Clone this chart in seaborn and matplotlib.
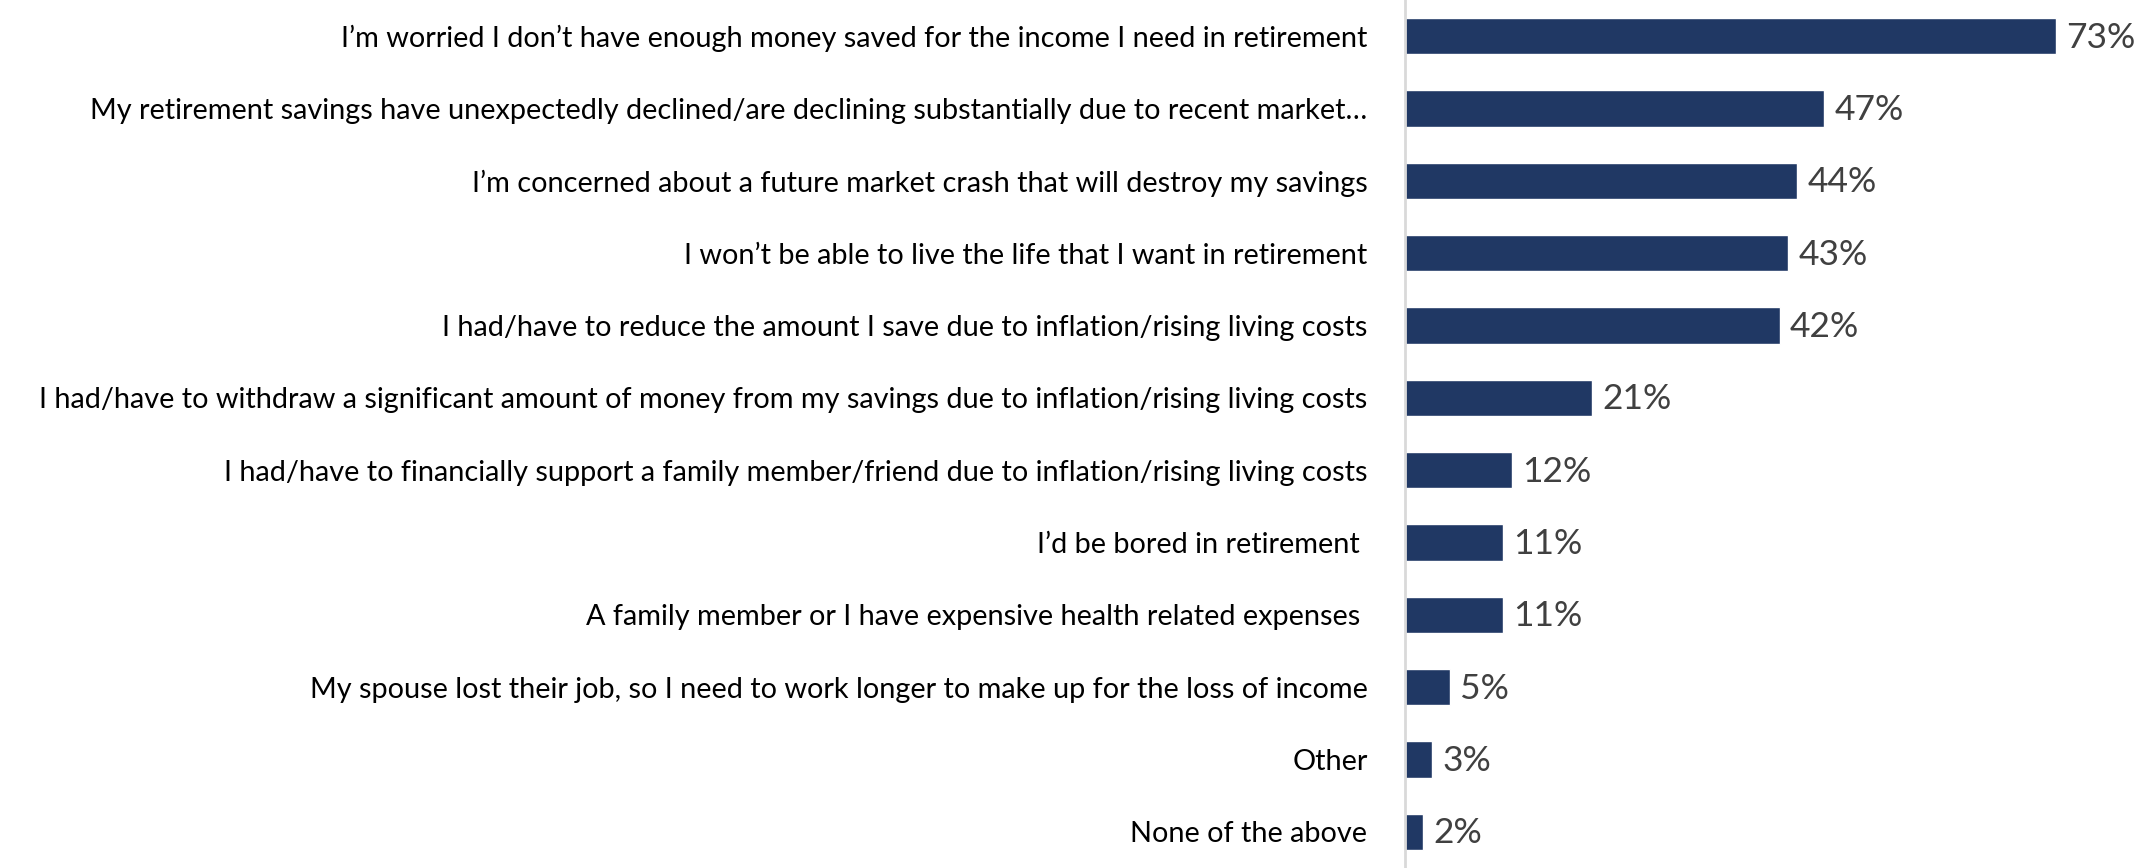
import matplotlib
matplotlib.use("Agg")
import matplotlib.pyplot as plt
import seaborn as sns
import pandas as pd

# --------------------------------------------------------------------
# Data
# --------------------------------------------------------------------

reasons = [
    "I’m worried I don’t have enough money saved for the income I need in retirement",
    "My retirement savings have unexpectedly declined/are declining substantially due to recent market…",
    "I’m concerned about a future market crash that will destroy my savings",
    "I won’t be able to live the life that I want in retirement",
    "I had/have to reduce the amount I save due to inflation/rising living costs",
    "I had/have to withdraw a significant amount of money from my savings due to inflation/rising living costs",
    "I had/have to financially support a family member/friend due to inflation/rising living costs",
    "I’d be bored in retirement ",
    "A family member or I have expensive health related expenses ",
    "My spouse lost their job, so I need to work longer to make up for the loss of income",
    "Other",
    "None of the above",
]
shares = [73, 47, 44, 43, 42, 21, 12, 11, 11, 5, 3, 2]

df = pd.DataFrame({"reason": reasons, "share": shares})

BAR_COLOR = "#203864"
LABEL_FONT = "Lato"

# --------------------------------------------------------------------
# Plot
# --------------------------------------------------------------------

sns.set_theme(style="white")
plt.rcParams["font.family"] = [LABEL_FONT, "DejaVu Sans"]

fig = plt.figure(figsize=(21.38, 8.68), dpi=100)
ax = fig.add_axes([1405 / 2138, 0.0, 1 - 1405 / 2138, 1.0])

sns.barplot(data=df, x="share", y="reason", orient="h", color=BAR_COLOR,
            width=0.5, saturation=1, ax=ax)

ax.set_xlim(0, 82.2)
ax.set_ylim(len(reasons) - 0.5, -0.5)
ax.set_xlabel("")
ax.set_ylabel("")
ax.set_xticks([])

for side in ["top", "right", "bottom"]:
    ax.spines[side].set_visible(False)
ax.spines["left"].set_color("#d9d9d9")
ax.spines["left"].set_linewidth(2)

ax.tick_params(axis="y", length=0, pad=27, labelsize=20.8, labelcolor="black")

for i, v in enumerate(shares):
    ax.annotate(f"{v}%", xy=(v, i), xytext=(7.5, -1), textcoords="offset points",
                ha="left", va="center", fontsize=25.5, color="#404040")

fig.savefig("out.png", dpi=100)
